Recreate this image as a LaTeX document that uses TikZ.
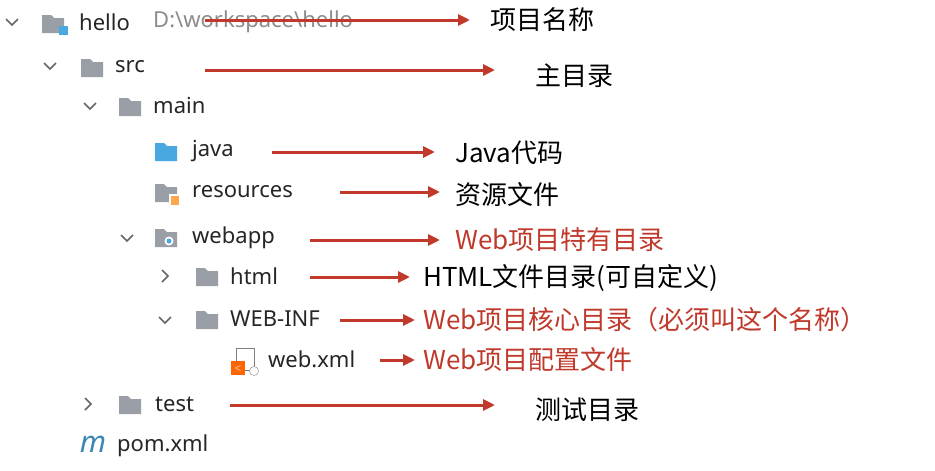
\documentclass[tikz,border=0pt]{standalone}
\usepackage{fontspec}
\usetikzlibrary{arrows.meta}
\setmainfont{Noto Sans}
\newfontfamily\cjk{Noto Sans CJK SC}
\definecolor{arr}{HTML}{C0392B}
\definecolor{fold}{HTML}{9A9EA6}
\definecolor{jblue}{HTML}{4AA8E0}
\begin{document}
\begin{tikzpicture}[x=1pt,y=-1pt,
  lat/.style={anchor=west,inner sep=0,font=\fontsize{22}{24}\selectfont,text=black!85},
  lab/.style={anchor=west,inner sep=0,font=\cjk\fontsize{26}{28}\selectfont,text=black},
  rlab/.style={lab,text=arr},
  ar/.style={draw=arr,line width=3pt,-{Triangle[length=12pt,width=11pt]}},
  chev/.style={draw=black!60,line width=1.5pt}]
\fill[white] (0,0) rectangle (935,471);
\useasboundingbox (0,0) rectangle (935,471);
\newcommand\fldr[3]{\fill[#3] (#1-11,#2-9) -- (#1-2,#2-9) -- (#1+1,#2-6) -- (#1+11,#2-6) -- (#1+11,#2+9) -- (#1-11,#2+9) -- cycle;}
\newcommand\dchev[2]{\draw[chev] (#1-6,#2-3) -- (#1,#2+3) -- (#1+6,#2-3);}
\newcommand\rchev[2]{\draw[chev] (#1-3,#2-6) -- (#1+3,#2) -- (#1-3,#2+6);}
% chevrons
\dchev{12}{22}\dchev{50}{66}\dchev{90}{106}\dchev{127}{238}\rchev{165}{276}\dchev{165}{320}\rchev{88}{404}
% icons
\fldr{53}{24}{fold}\fill[jblue] (59,26) rectangle (68,35);
\fldr{92}{68}{fold}\fldr{130}{107}{fold}\fldr{166}{152}{jblue}
\fldr{166}{193}{fold}\fill[white] (169,194) rectangle (180,206);\fill[orange!70] (171,196) rectangle (179,205);
\fldr{166}{238}{fold}\fill[white] (169,241) circle (4.5);\fill[jblue] (169,241) circle (2.5);
\fldr{207}{277}{fold}\fldr{207}{320}{fold}\fldr{130}{405}{fold}
\fill[white,draw=black!50] (236,348) rectangle (254,370);
\fill[orange!80!red] (231,361) rectangle (245,375);
\node[font=\sffamily\bfseries\fontsize{8}{8}\selectfont,text=white] at (238,368) {<};
\draw[black!50,fill=white] (254,371) circle (4.5);
\node[font=\bfseries\itshape\fontsize{30}{30}\selectfont,text=jblue!80!black,inner sep=0] (m) at (93,444) {m};
% texts
\node[lat,font=\fontsize{22}{24}\selectfont\bfseries] (hello) at (79,22) {hello};
\node[lat,text=black!45] (path) at (153,22) {D:\textbackslash workspace\textbackslash hello};
\node[lat] (src) at (115,67) {src};
\node[lat] (main) at (153,106) {main};
\node[lat] (java) at (192,151) {java};
\node[lat] (res) at (192,192) {resources};
\node[lat] (web) at (192,238) {webapp};
\node[lat] (html) at (230,276) {html};
\node[lat] (winf) at (230,319) {WEB-INF};
\node[lat] (wxml) at (268,359) {web.xml};
\node[lat] (test) at (155,404) {test};
\node[lat] (pom) at (117,446) {pom.xml};
% labels
\node[lab] (l1) at (490,20) {项目名称};
\node[lab] (l2) at (535,76) {主目录};
\node[lab] (l3) at (455,153) {Java代码};
\node[lab] (l4) at (455,195) {资源文件};
\node[rlab] (l5) at (455,240) {Web项目特有目录};
\node[lab] (l6) at (423,278) {HTML文件目录(可自定义)};
\node[rlab] (l7) at (423,320) {Web项目核心目录（必须叫这个名称）};
\node[rlab] (l8) at (423,360) {Web项目配置文件};
\node[lab] (l9) at (535,410) {测试目录};
% arrows
\draw[ar] (205,20) -- (470,20);
\draw[ar] (205,70) -- (495,70);
\draw[ar] (272,152) -- (435,152);
\draw[ar] (340,192) -- (440,192);
\draw[ar] (310,240) -- (440,240);
\draw[ar] (310,277) -- (410,277);
\draw[ar] (340,320) -- (415,320);
\draw[ar] (380,360) -- (415,360);
\draw[ar] (230,405) -- (495,405);
\end{tikzpicture}
\end{document}
